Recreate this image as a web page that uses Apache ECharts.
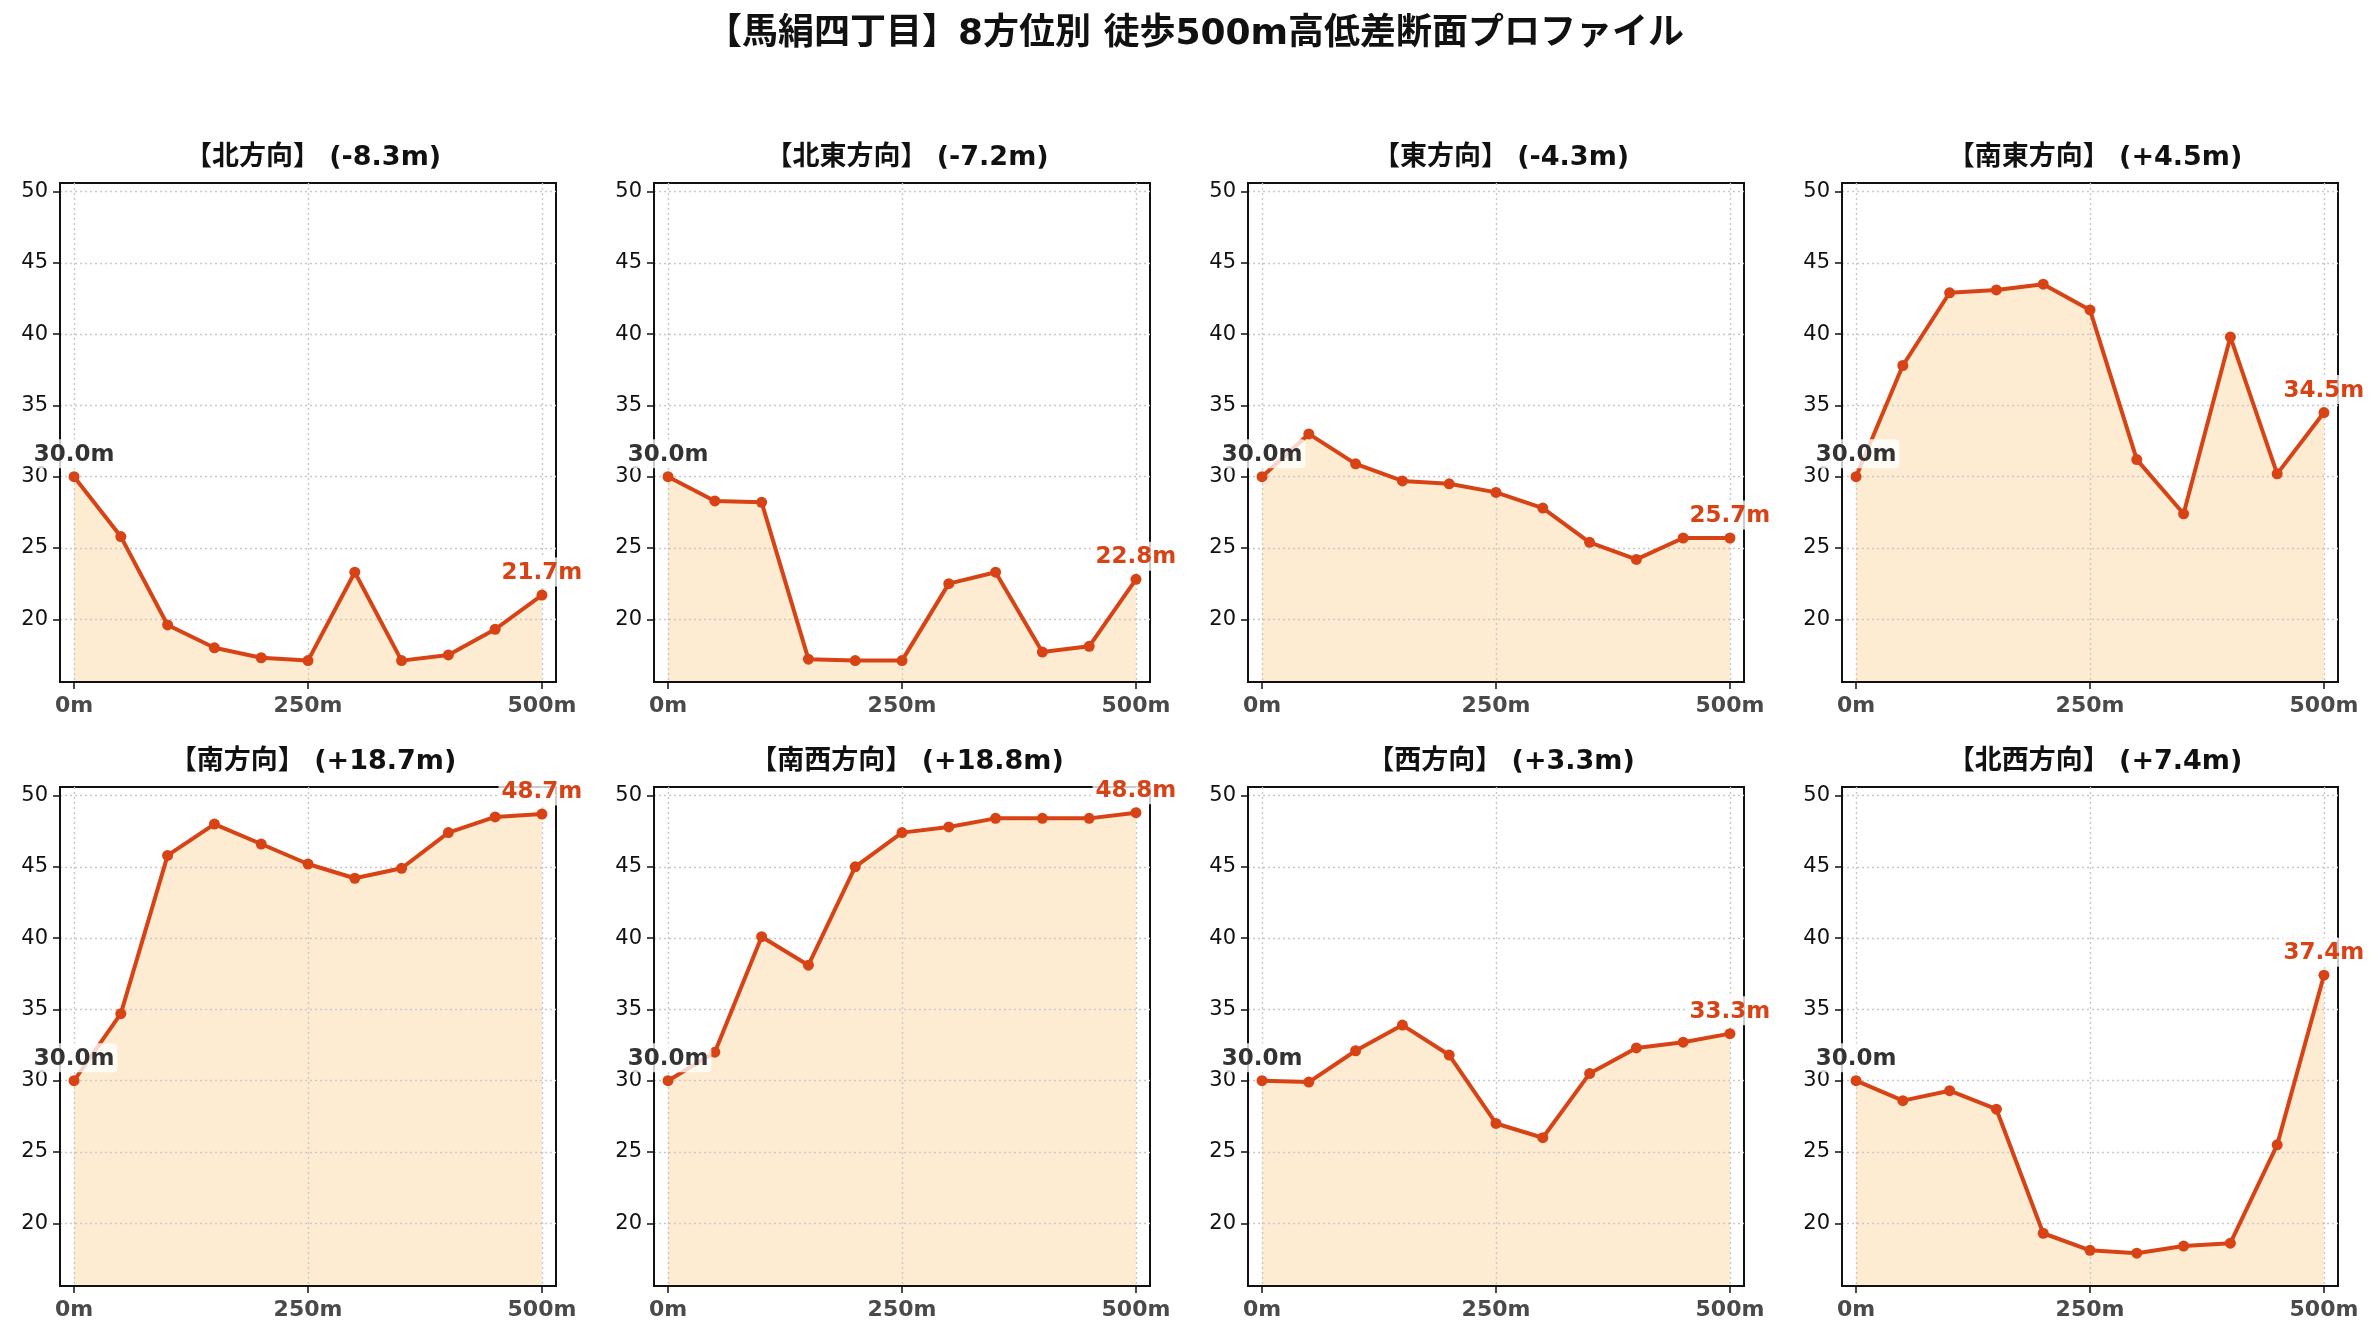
<!DOCTYPE html>
<html>
<head>
<meta charset="utf-8">
<title>馬絹四丁目 高低差断面プロファイル</title>
<script src="https://cdn.jsdelivr.net/npm/echarts@6/dist/echarts.min.js"></script>
<style>
  html, body { margin: 0; padding: 0; background: #fff; }
  #chart { width: 2380px; height: 1340px; }
</style>
</head>
<body>
<div id="chart"></div>
<script>
// 距離 (m)
var distances = [0, 50, 100, 150, 200, 250, 300, 350, 400, 450, 500];

// 方位名
var directions = ['北方向', '北東方向', '東方向', '南東方向', '南方向', '南西方向', '西方向', '北西方向'];

// 各方位の標高 (m)
var elevNorth     = [30.0, 25.8, 19.6, 18.0, 17.3, 17.1, 23.3, 17.1, 17.5, 19.3, 21.7];
var elevNorthEast = [30.0, 28.3, 28.2, 17.2, 17.1, 17.1, 22.5, 23.3, 17.7, 18.1, 22.8];
var elevEast      = [30.0, 33.0, 30.9, 29.7, 29.5, 28.9, 27.8, 25.4, 24.2, 25.7, 25.7];
var elevSouthEast = [30.0, 37.8, 42.9, 43.1, 43.5, 41.7, 31.2, 27.4, 39.8, 30.2, 34.5];
var elevSouth     = [30.0, 34.7, 45.8, 48.0, 46.6, 45.2, 44.2, 44.9, 47.4, 48.5, 48.7];
var elevSouthWest = [30.0, 32.0, 40.1, 38.1, 45.0, 47.4, 47.8, 48.4, 48.4, 48.4, 48.8];
var elevWest      = [30.0, 29.9, 32.1, 33.9, 31.8, 27.0, 26.0, 30.5, 32.3, 32.7, 33.3];
var elevNorthWest = [30.0, 28.6, 29.3, 28.0, 19.3, 18.1, 17.9, 18.4, 18.6, 25.5, 37.4];

var profiles = [elevNorth, elevNorthEast, elevEast, elevSouthEast,
                elevSouth, elevSouthWest, elevWest, elevNorthWest];

// 目盛り
var xTicks = [0, 250, 500];
var yTicks = [20, 25, 30, 35, 40, 45, 50];

var FONT = "'DejaVu Sans', 'Noto Sans CJK JP', sans-serif";
var LINE_COLOR = '#d84315';
var FILL_COLOR = '#feecd2';

var colLeft = [60, 654, 1248, 1842];
var rowTop = [183, 787];
var W = 496, H = 499;

var myChart = echarts.init(document.getElementById('chart'), null, { renderer: 'canvas' });

var grids = [], xAxes = [], yAxes = [], series = [];
var titles = [{
  text: '【馬絹四丁目】8方位別 徒歩500m高低差断面プロファイル',
  left: 1190, top: 12, textAlign: 'center',
  textStyle: { fontFamily: FONT, fontSize: 36, fontWeight: 'bold', color: '#111' }
}];

profiles.forEach(function (elev, i) {
  var left = colLeft[i % 4];
  var top = rowTop[Math.floor(i / 4)];
  var diff = elev[elev.length - 1] - elev[0];
  var diffTxt = (diff >= 0 ? '+' : '') + diff.toFixed(1) + 'm';

  grids.push({ left: left, top: top, width: W, height: H,
    show: true, borderColor: '#111', borderWidth: 2, backgroundColor: 'transparent' });

  titles.push({
    text: '【' + directions[i] + '】 (' + diffTxt + ')',
    left: left + W / 2, top: top - 44, textAlign: 'center',
    textStyle: { fontFamily: FONT, fontSize: 27, fontWeight: 'bold', color: '#111' }
  });

  xAxes.push({
    type: 'value', gridIndex: i, min: -15, max: 515, z: 2,
    axisLine: { show: true, onZero: false, lineStyle: { color: '#111', width: 2 } },
    axisTick: { show: true, length: 7, customValues: xTicks, lineStyle: { color: '#111', width: 1.5 } },
    axisLabel: { customValues: xTicks, margin: 13, fontFamily: FONT, fontSize: 22,
      fontWeight: 'bold', color: '#4a4a4a', formatter: function (v) { return v + 'm'; } },
    splitLine: { show: true, lineStyle: { color: '#c8c8c8', type: [2, 3], width: 1.4 } }
  });

  yAxes.push({
    type: 'value', gridIndex: i, min: 15.6, max: 50.6, z: 2,
    axisLine: { show: true, onZero: false, lineStyle: { color: '#111', width: 2 } },
    axisTick: { show: true, length: 7, customValues: yTicks, lineStyle: { color: '#111', width: 1.5 } },
    axisLabel: { customValues: yTicks, margin: 12, fontFamily: FONT, fontSize: 21, color: '#111' },
    splitLine: { show: true, lineStyle: { color: '#c8c8c8', type: [2, 3], width: 1.4 } }
  });

  var pts = distances.map(function (d, k) { return [d, elev[k]]; });

  // 塗りつぶし
  series.push({
    type: 'line', xAxisIndex: i, yAxisIndex: i, z: 1,
    data: pts, symbol: 'none', silent: true,
    lineStyle: { width: 0 },
    areaStyle: { color: FILL_COLOR, opacity: 1, origin: 'start' }
  });

  // 折れ線 + 始点/終点ラベル
  var lineData = pts.map(function (p, k) {
    var item = { value: p };
    if (k === 0 || k === pts.length - 1) {
      var isStart = k === 0;
      item.label = {
        show: true, position: 'top', distance: 3,
        formatter: p[1].toFixed(1) + 'm',
        fontFamily: FONT, fontSize: 23, fontWeight: 'bold',
        color: isStart ? '#333' : LINE_COLOR,
        backgroundColor: 'rgba(255,255,255,0.78)',
        borderRadius: 4, padding: [4, 3, 2, 3]
      };
    }
    return item;
  });
  series.push({
    type: 'line', xAxisIndex: i, yAxisIndex: i, z: 3,
    data: lineData, symbol: 'circle', symbolSize: 11,
    itemStyle: { color: LINE_COLOR },
    lineStyle: { color: LINE_COLOR, width: 4 },
    label: { show: false }
  });
});

var option = {
  backgroundColor: '#fff',
  animation: false,
  title: titles,
  grid: grids,
  xAxis: xAxes,
  yAxis: yAxes,
  series: series
};
myChart.setOption(option);
</script>
</body>
</html>
